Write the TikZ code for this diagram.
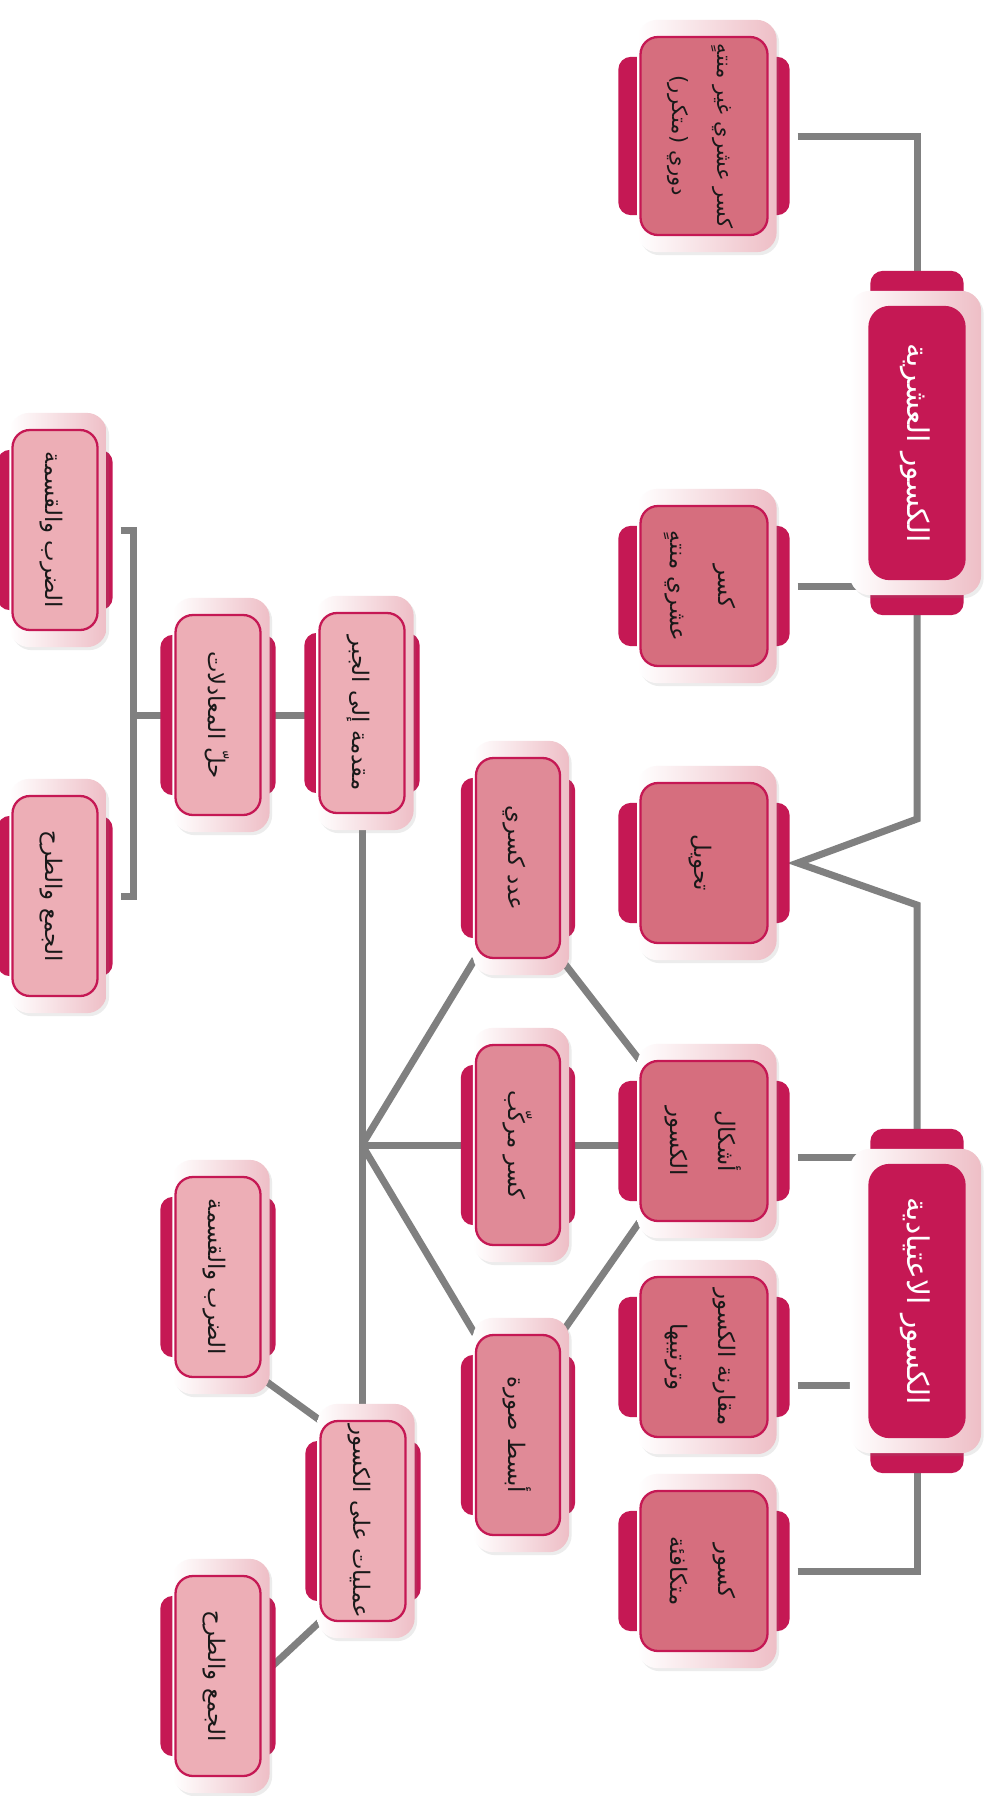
\documentclass[tikz,border=0pt]{standalone}
\usepackage{fontspec}
\usepackage{graphicx}
\newfontfamily\arabicfont[Script=Arabic]{DejaVu Sans}
\TeXXeTstate=1
\usetikzlibrary{fit,calc,shadows}

\definecolor{crimson}{RGB}{197,24,84}
\definecolor{rosedark}{RGB}{214,110,126}
\definecolor{rosemid}{RGB}{224,138,151}
\definecolor{roselight}{RGB}{237,174,182}
\definecolor{halopink}{RGB}{238,190,198}
\definecolor{linkgray}{RGB}{128,128,128}

% text turned a quarter clockwise, one line per \rl
\newcommand{\rl}[1]{\beginR#1\endR}
\newcommand{\vtext}[1]{\rotatebox{-90}{\begin{tabular}{@{}c@{}}#1\end{tabular}}}

\pgfdeclarelayer{links}
\pgfdeclarelayer{decor}
\pgfsetlayers{links,decor,main}

\begin{document}
\begin{tikzpicture}[x=0.2mm,y=-0.2mm,
  box/.style={draw=crimson,line width=1.3pt,rounded corners=3.5mm,inner sep=0pt,text=black!90,font=\arabicfont\fontsize{13}{27}\selectfont},
  wide/.style={box,fill=rosedark,minimum width=25.4mm,minimum height=32mm},
  mid/.style={box,fill=rosemid,minimum width=16.8mm,minimum height=40mm},
  pale/.style={box,fill=roselight,minimum width=17mm,minimum height=40mm},
  head/.style={box,fill=crimson,text=white,minimum width=19mm,minimum height=54.4mm,rounded corners=4mm,font=\arabicfont\fontsize{17}{28}\selectfont},
  halo/.style={rounded corners=4mm,left color=white,right color=halopink,inner xsep=1mm,inner ysep=3.2mm,xshift=0.6mm,
    drop shadow={opacity=0.15,shadow xshift=0.5mm,shadow yshift=-0.6mm}},
  tab/.style={fill=crimson,rounded corners=2.5mm,inner ysep=-4.2mm},
  link/.style={draw=linkgray,line width=1.4mm}
]
\useasboundingbox (0,0) rectangle (991,1796);

% headings
\node[head] (decimals) at (917,443) {\vtext{\rl{الكسور العشرية}}};
\node[head] (common) at (917,1301) {\vtext{\rl{الكسور الاعتيادية}}};

% right column
\node[wide,minimum height=39.6mm,font=\arabicfont\fontsize{12}{26}\selectfont] (rep) at (704,136) {\vtext{\rl{كسر عشري غير منتهٍ}\\\rl{دوري (متكرر)}}};
\node[wide] (term) at (704,586) {\vtext{\rl{كسر}\\\rl{عشري منتهٍ}}};
\node[wide] (conv) at (704,863) {\vtext{\rl{تحويل}}};
\node[wide] (forms) at (704,1141) {\vtext{\rl{أشكال}\\\rl{الكسور}}};
\node[wide] (compare) at (704,1357) {\vtext{\rl{مقارنة الكسور}\\\rl{وترتيبها}}};
\node[wide] (equiv) at (704,1571) {\vtext{\rl{كسور}\\\rl{متكافئة}}};

% middle column
\node[mid] (mixed) at (518,858) {\vtext{\rl{عدد كسري}}};
\node[mid] (compound) at (518,1145) {\vtext{\rl{كسر مركّب}}};
\node[mid] (simplest) at (518,1435) {\vtext{\rl{أبسط صورة}}};

% left part
\node[pale] (intro) at (362,713) {\vtext{\rl{مقدمة إلى الجبر}}};
\node[pale] (ops) at (363,1521) {\vtext{\rl{عمليات على الكسور}}};
\node[pale] (solve) at (218,715) {\vtext{\rl{حلّ المعادلات}}};
\node[pale] (muldivA) at (55,530) {\vtext{\rl{الضرب والقسمة}}};
\node[pale] (addsubA) at (55,896) {\vtext{\rl{الجمع والطرح}}};
\node[pale] (muldivB) at (218,1277) {\vtext{\rl{الضرب والقسمة}}};
\node[pale] (addsubB) at (218,1676) {\vtext{\rl{الجمع والطرح}}};

% side tabs and glow behind every box
\begin{pgfonlayer}{decor}
\foreach \n/\s in {rep/4.2mm,term/4.2mm,conv/4.2mm,forms/4.2mm,compare/4.2mm,equiv/4.2mm,
  mixed/2.8mm,compound/2.8mm,simplest/2.8mm,intro/2.8mm,ops/2.8mm,solve/2.8mm,
  muldivA/2.8mm,addsubA/2.8mm,muldivB/2.8mm,addsubB/2.8mm}{
  \node[tab,inner xsep=\s,fit=(\n)] {};
  \node[halo,fit=(\n)] {};
}
\foreach \n in {decimals,common}{
  \node[tab,inner xsep=-0.4mm,inner ysep=7mm,fit=(\n)] {};
  \node[halo,inner xsep=3.4mm,inner ysep=3mm,xshift=-0.9mm,fit=(\n)] {};
}
\end{pgfonlayer}

% connectors
\begin{pgfonlayer}{links}
\fill[white] (0,0) rectangle (991,1796);
\draw[link] ([xshift=5.8mm]rep.east) -| (decimals.north);
\draw[link] ([xshift=5.8mm]term.east) -- (term.east -| decimals.west);
\coordinate (vtip) at ([xshift=5.8mm]conv.east);
\draw[link] (decimals.south) -- ($(decimals.south |- vtip)+(0,-44)$) -- (vtip)
  -- ($(common.north |- vtip)+(0,42)$) -- (common.north);
\draw[link] ([xshift=5.8mm,yshift=-3.2mm]forms.east) coordinate (fa) -- (fa -| common.west);
\draw[link] ([xshift=5.8mm,yshift=-5.6mm]compare.east) coordinate (ca) -- (ca -| common.west);
\draw[link] ([xshift=5.8mm]equiv.east) -| (common.south);

\coordinate (hub) at (intro.south |- compound.west);
\draw[link] (intro.south) -- (intro.south |- ops.north);
\draw[link] (hub) -- (mixed.south west);
\draw[link] (hub) -- (hub -| forms.west);
\draw[link] (hub) -- (simplest.north west);
\draw[link] (mixed.south east) -- (forms.north west);
\draw[link] (simplest.north east) -- (forms.south west);

\draw[link] (solve.east) -- (solve.east -| intro.west);
\draw[link] ([xshift=4.4mm]muldivA.east) -- ++(13,0) |- ([xshift=4.4mm]addsubA.east);
\draw[link] (solve.west) -- ([xshift=7mm]muldivA.east |- solve.west);
\draw[link] (ops.north west) -- (muldivB.south east);
\draw[link] (ops.south west) -- (addsubB.east);
\end{pgfonlayer}
\end{tikzpicture}
\end{document}
